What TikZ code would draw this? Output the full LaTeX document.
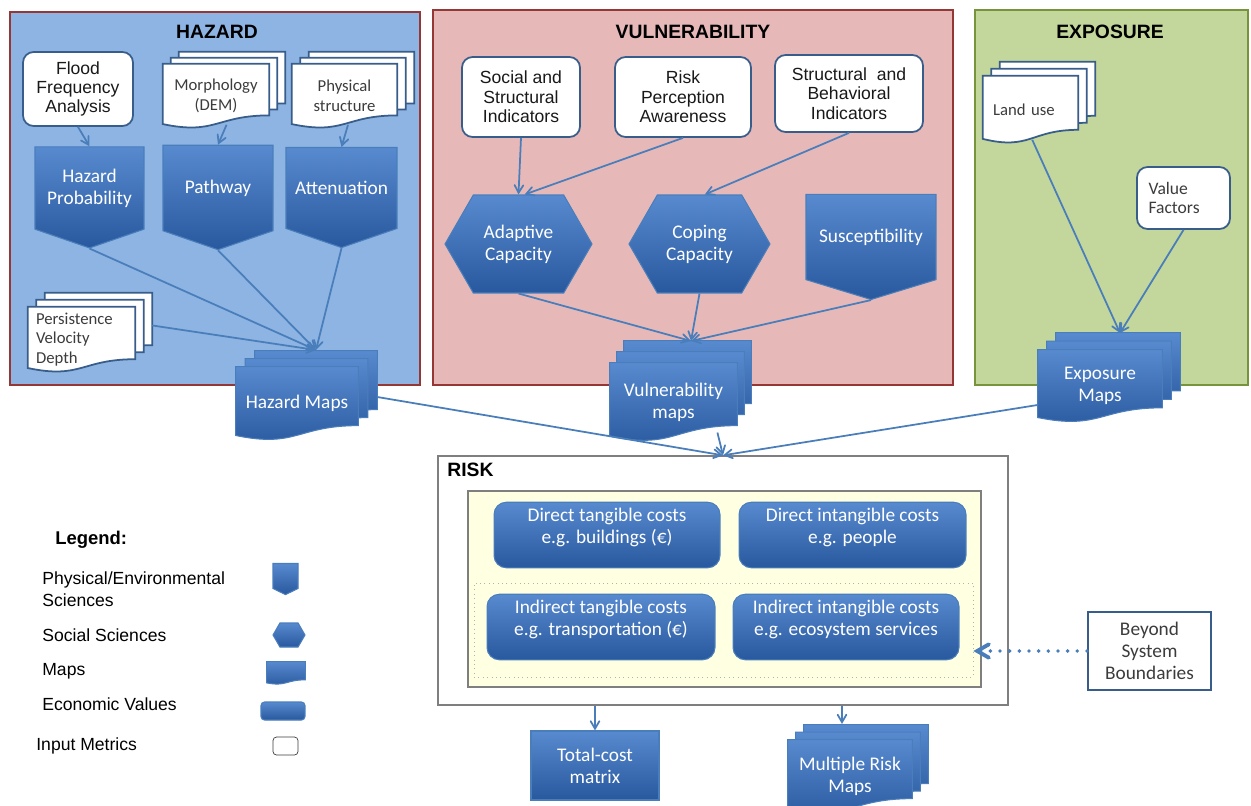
\documentclass[tikz,border=0pt]{standalone}
\usepackage{fontspec}
\setmainfont{Liberation Sans}
\newfontfamily\carlito{Carlito}
\usetikzlibrary{arrows,calc,shapes.symbols}

\definecolor{hazfill}{RGB}{141,180,226}
\definecolor{vulfill}{RGB}{230,185,184}
\definecolor{expfill}{RGB}{195,214,155}
\definecolor{redframe}{RGB}{149,55,53}
\definecolor{greenframe}{RGB}{119,147,60}
\definecolor{bluetop}{RGB}{88,138,208}
\definecolor{bluebot}{RGB}{40,88,158}
\definecolor{blueedge}{RGB}{74,126,187}
\definecolor{inkblue}{RGB}{56,93,138}
\definecolor{cream}{RGB}{255,255,226}
\definecolor{riskframe}{RGB}{127,127,127}
\definecolor{darktext}{RGB}{60,60,60}

\pgfdeclarelayer{bg}
\pgfdeclarelayer{sheets}
\pgfsetlayers{bg,sheets,main}

% one sheet of a document shape, drawn over the box of node #1
\newcommand\docsheet[4]{%
  \path[#4] ([shift={(#2,#3)}]#1.north west) -- ([shift={(#2,#3)}]#1.north east)
    -- ([shift={(#2,#3)}]$(#1.north east)!0.8!(#1.south east)$)
    .. controls ([shift={(#2,#3)}]$(#1.north)!0.8!(#1.south)$)
    and ([shift={(#2,#3)}]$(#1.north)!1.107!(#1.south)$)
    .. ([shift={(#2,#3)}]$(#1.north west)!0.934!(#1.south west)$) -- cycle;}
% three sheets
\newcommand\docstack[4]{%
  \foreach \k in {2,1,0}{\docsheet{#1}{\k*#2}{\k*#3}{#4}}}

\tikzset{
  panel/.style={draw=#1, line width=1.1pt},
  paneltitle/.style={font=\fontsize{11}{13}\selectfont\bfseries},
  bluefill/.style={top color=bluetop, bottom color=bluebot, draw=blueedge, line width=0.6pt},
  inbox/.style={rectangle, draw=inkblue, line width=1pt, fill=white, rounded corners=6pt,
    align=center, text=black!90, font=\fontsize{10}{11}\selectfont},
  physbox/.style={signal, signal to=south, signal from=nowhere, signal pointer angle=142,
    bluefill, text=white, align=center, font=\carlito\fontsize{11}{12.5}\selectfont},
  socbox/.style={signal, signal to=east and west, signal pointer angle=120,
    bluefill, text=white, align=center, font=\carlito\fontsize{11}{12.5}\selectfont},
  docnode/.style={rectangle, inner sep=2pt, align=center, text=darktext,
    font=\carlito\fontsize{9.5}{11.3}\selectfont},
  mapdoc/.style={rectangle, inner sep=2pt, align=center, text=white,
    font=\carlito\fontsize{11}{12.5}\selectfont},
  cost/.style={rectangle, rounded corners=7pt, bluefill, text=white, align=center,
    font=\carlito\fontsize{11}{12.5}\selectfont},
  whitesheet/.style={fill=white, draw=inkblue, line width=1pt},
  bluesheet/.style={bluefill},
  link/.style={->, draw=blueedge, line width=1pt},
  legtext/.style={anchor=west, inner xsep=0pt, align=left, font=\fontsize{10}{12.5}\selectfont},
}

\begin{document}
\begin{tikzpicture}[x=0.02cm, y=-0.02cm, >=angle 60]
\useasboundingbox (0,0) rectangle (1251,805);

\begin{pgfonlayer}{bg}
  \draw[panel=redframe, fill=hazfill] (10,12) rectangle (420,385);
  \draw[panel=redframe, fill=vulfill] (433,10) rectangle (953,385);
  \draw[panel=greenframe, fill=expfill] (975,10) rectangle (1248,385);
\end{pgfonlayer}

% hazard
\node[paneltitle] (haztitle) at (217,32) {HAZARD};
\node[inbox, minimum width=2.2cm, minimum height=1.48cm] (ffa) at (78,89) {Flood\\Frequency\\Analysis};
\node[docnode, minimum width=2.12cm, minimum height=1.28cm] (morph) at (216,96) {Morphology\\(DEM)};
\node[docnode, minimum width=2.1cm, minimum height=1.28cm] (phys) at (344.5,96) {Physical\\structure};
\node[physbox, minimum width=2.18cm, minimum height=1.98cm] (hp) at (89.5,188) {Hazard\\Probability};
\node[physbox, minimum width=2.2cm, minimum height=1.98cm] (pw) at (218,188) {Pathway};
\node[physbox, minimum width=2.22cm, minimum height=1.98cm] (att) at (341.5,188) {Attenuation};
\node[docnode, align=left, text width=1.82cm, minimum width=2.14cm, minimum height=1.3cm] (pvd) at (81.5,339.5) {Persistence\\Velocity\\Depth};
\node[mapdoc, minimum width=2.44cm, minimum height=1.46cm] (hm) at (297,403.5) {Hazard Maps};

% vulnerability
\node[paneltitle] (vultitle) at (693,32) {VULNERABILITY};
\node[inbox, minimum width=2.36cm, minimum height=1.6cm] (ssi) at (521,97) {Social and\\Structural\\Indicators};
\node[inbox, minimum width=2.72cm, minimum height=1.6cm] (rpa) at (683,97) {Risk\\Perception\\Awareness};
\node[inbox, minimum width=2.96cm, minimum height=1.54cm] (sbi) at (849,93.5) {Structural~~and\\Behavioral\\Indicators};
\node[socbox, minimum width=2.94cm, minimum height=1.96cm] (ac) at (518.5,244) {Adaptive\\Capacity};
\node[socbox, minimum width=2.82cm, minimum height=1.96cm] (cc) at (699.5,244) {Coping\\Capacity};
\node[physbox, signal pointer angle=146, minimum width=2.6cm, minimum height=2.06cm] (sus) at (871,237) {Susceptibility};
\node[mapdoc, minimum width=2.54cm, minimum height=1.56cm] (vm) at (673.5,402) {Vulnerability\\maps};

% exposure
\node[paneltitle] (exptitle) at (1110,32) {EXPOSURE};
\node[docnode, align=left, text width=1.5cm, minimum width=1.9cm, minimum height=1.34cm] (lu) at (1030.5,109.5) {Land use};
\node[inbox, docnode, draw=inkblue, fill=white, rounded corners=6pt, line width=1pt,
  align=left, text width=1.4cm, minimum width=1.86cm, minimum height=1.24cm,
  font=\carlito\fontsize{10}{11}\selectfont] (vf) at (1183.5,198) {Value\\Factors};
\node[mapdoc, minimum width=2.48cm, minimum height=1.44cm] (em) at (1100,386) {Exposure\\Maps};

% risk
\node[rectangle, draw=riskframe, fill=white, line width=0.8pt, minimum width=11.4cm, minimum height=4.98cm] (risk) at (723,580.5) {};
\node[paneltitle, anchor=west, inner xsep=0pt] (risktitle) at (447,470) {RISK};
\node[rectangle, draw=riskframe, fill=cream, line width=0.8pt, minimum width=10.26cm, minimum height=3.92cm] (costs) at (724.5,589) {};
\node[rectangle, draw=riskframe!60, dotted, line width=0.5pt, minimum width=9.98cm, minimum height=1.88cm] (indirect) at (723.5,630) {};
\node[cost, minimum width=4.52cm, minimum height=1.28cm] (dtc) at (607,535) {Direct tangible costs\\e.g. buildings (€)\\[-2pt]\mbox{}};
\node[cost, minimum width=4.54cm, minimum height=1.28cm] (dic) at (852.5,535) {Direct intangible costs\\e.g. people\\[-2pt]\mbox{}};
\node[cost, minimum width=4.56cm, minimum height=1.28cm] (itc) at (601,627) {Indirect tangible costs\\e.g. transportation (€)\\[-2pt]\mbox{}};
\node[cost, minimum width=4.52cm, minimum height=1.28cm] (iic) at (846,627) {Indirect intangible costs\\e.g. ecosystem services\\[-2pt]\mbox{}};
\node[rectangle, draw=inkblue, line width=1.2pt, fill=white, align=center, text=darktext,
  font=\carlito\fontsize{11}{12.5}\selectfont, minimum width=2.46cm, minimum height=1.56cm] (bsb) at (1149.5,651) {Beyond\\System\\Boundaries};

% outputs
\node[rectangle, bluefill, text=white, align=center, font=\carlito\fontsize{11}{12.5}\selectfont,
  minimum width=2.56cm, minimum height=1.38cm] (tcm) at (595,765.5) {Total-cost\\matrix};
\node[mapdoc, minimum width=2.48cm, minimum height=1.46cm] (mrm) at (850,776.5) {Multiple Risk\\Maps};

% legend
\node[legtext, font=\fontsize{10.5}{12.5}\selectfont\bfseries] (legtitle) at (55,540) {Legend:};
\node[legtext] (legphys) at (42,589) {Physical/Environmental\\Sciences};
\node[legtext] (legsoc) at (42,635) {Social Sciences};
\node[legtext] (legmap) at (42,671) {Maps};
\node[legtext] (legcost) at (42,704) {Economic Values};
\node[legtext] (leginput) at (36,746) {Input Metrics};
\node[physbox, signal pointer angle=128, inner sep=0pt, minimum width=0.5cm, minimum height=0.5cm] (icphys) at (285.5,576) {};
\node[socbox, inner sep=0pt, minimum width=0.64cm, minimum height=0.48cm] (icsoc) at (289,635) {};
\node[mapdoc, inner sep=0pt, minimum width=0.76cm, minimum height=0.44cm] (icmap) at (286,673) {};
\node[cost, rounded corners=2pt, inner sep=0pt, minimum width=0.88cm, minimum height=0.36cm] (iccost) at (283,711) {};
\node[rectangle, draw=darktext, fill=white, rounded corners=2pt, minimum width=0.5cm, minimum height=0.36cm] (icinput) at (285.5,746) {};

\begin{pgfonlayer}{sheets}
  \docstack{morph}{8}{-6}{whitesheet}
  \docstack{phys}{8.5}{-6}{whitesheet}
  \docstack{pvd}{8.5}{-7}{whitesheet}
  \docstack{hm}{9.5}{-8}{bluesheet}
  \docstack{vm}{7}{-11}{bluesheet}
  \docstack{lu}{8.5}{-7}{whitesheet}
  \docstack{em}{9}{-8.5}{bluesheet}
  \docstack{mrm}{8}{-7.5}{bluesheet}
  \docsheet{icmap}{0}{0}{bluesheet}
\end{pgfonlayer}

% connectors
\coordinate (hmin) at (316,350);
\coordinate (vmin) at (691,341);
\coordinate (emin) at (1120,333);
\coordinate (mrmin) at (842,724);
\draw[link] (ffa.south) -- (hp.north);
\draw[link] ([xshift=6pt,yshift=2pt]morph.south) -- (pw.north);
\draw[link] ([xshift=2pt,yshift=2pt]phys.south) -- (att.north);
\draw[link] (hp.south) -- (hmin);
\draw[link] (pw.south) -- (hmin);
\draw[link] (att.south) -- (hmin);
\draw[link] ([xshift=9.6pt,yshift=8pt]pvd.east) -- (hmin);
\draw[link] (ssi.south) -- (ac.north);
\draw[link] (rpa.south) -- ([xshift=3.5pt]ac.north);
\draw[link] (sbi.south) -- ([xshift=3pt]cc.north);
\draw[link] (ac.south) -- (vmin);
\draw[link] (cc.south) -- (vmin);
\draw[link] (sus.south) -- (vmin);
\draw[link] ([xshift=1pt,yshift=2pt]lu.south) -- (emin);
\draw[link] (vf.south) -- (emin);
\draw[link] ([xshift=10.8pt,yshift=3.7pt]hm.east) -- (risk.north);
\draw[link] ([xshift=25pt,yshift=5pt]vm.south) -- (risk.north);
\draw[link] ([yshift=-10.8pt]em.west) -- (risk.north);
\draw[link, line width=2.2pt, line cap=round, dash pattern=on 0pt off 5.5pt] (bsb.west) -- (bsb.west -| indirect.east);
\draw[link] (tcm.north |- risk.south) -- (tcm.north);
\draw[link] (mrmin |- risk.south) -- (mrmin);
\end{tikzpicture}
\end{document}
